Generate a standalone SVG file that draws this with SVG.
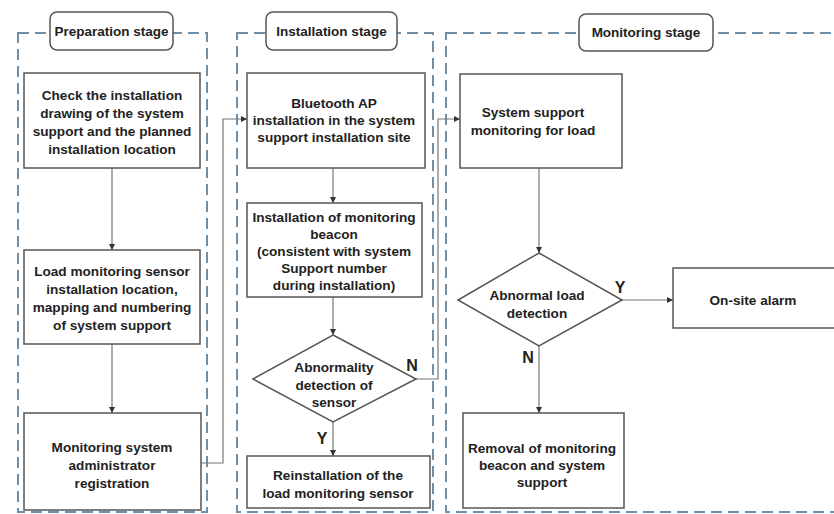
<svg xmlns="http://www.w3.org/2000/svg" width="834" height="514" viewBox="0 0 834 514">
<defs>
<marker id="ah" viewBox="0 0 10 10" refX="10" refY="5" markerWidth="6" markerHeight="6" orient="auto" markerUnits="userSpaceOnUse">
<path d="M0,0 L10,5 L0,10 z" fill="#333"/>
</marker>
<style>
.stage{fill:none;stroke:#6f8ea8;stroke-width:2;stroke-dasharray:11 6}
.lbl{fill:#fff;stroke:#555;stroke-width:1.5}
.box{fill:#fff;stroke:#555;stroke-width:1.5}
.t{font-family:"Liberation Sans",Arial,sans-serif;font-weight:bold;font-size:13.6px;fill:#222;text-anchor:middle}
.st{font-family:"Liberation Sans",Arial,sans-serif;font-weight:bold;font-size:13.5px;fill:#222;text-anchor:middle}
.yn{font-family:"Liberation Sans",Arial,sans-serif;font-weight:bold;font-size:16px;fill:#222;text-anchor:middle}
.c{fill:none;stroke:#777;stroke-width:1.2}
</style>
</defs>
<rect width="834" height="514" fill="#fff"/>
<g id="stages">
<rect class="stage" x="18" y="33" width="189" height="479"/>
<rect class="stage" x="237" y="33" width="196" height="479"/>
<rect class="stage" x="446" y="33" width="400" height="479"/>
</g>
<g id="stage-prep"><rect class="lbl" x="50" y="12" width="123" height="38" rx="7"/><text class="st" x="111.5" y="36">Preparation stage</text></g>
<g id="stage-inst"><rect class="lbl" x="266" y="12" width="131" height="38" rx="7"/><text class="st" x="331.5" y="36">Installation stage</text></g>
<g id="stage-mon"><rect class="lbl" x="579" y="14" width="134" height="37" rx="7"/><text class="st" x="646" y="37">Monitoring stage</text></g>
<g id="connectors">
<line class="c" x1="112" y1="168" x2="112" y2="250" marker-end="url(#ah)"/>
<line class="c" x1="112" y1="344" x2="112" y2="413" marker-end="url(#ah)"/>
<polyline class="c" points="201,463 223,463 223,119 247,119" marker-end="url(#ah)"/>
<line class="c" x1="333" y1="168" x2="333" y2="203" marker-end="url(#ah)"/>
<line class="c" x1="333" y1="297" x2="333" y2="335" marker-end="url(#ah)"/>
<line class="c" x1="333" y1="422" x2="333" y2="456" marker-end="url(#ah)"/>
<polyline class="c" points="416,379 438,379 438,119 460,119" marker-end="url(#ah)"/>
<line class="c" x1="539" y1="168" x2="539" y2="253" marker-end="url(#ah)"/>
<line class="c" x1="622" y1="300" x2="673" y2="300" marker-end="url(#ah)"/>
<line class="c" x1="539" y1="346" x2="539" y2="413" marker-end="url(#ah)"/>
<text class="yn" x="412" y="371">N</text>
<text class="yn" x="322" y="444">Y</text>
<text class="yn" x="620" y="293">Y</text>
<text class="yn" x="528" y="363">N</text>
</g>
<g id="p1"><rect class="box" x="24" y="73" width="176" height="95"/>
<text class="t" x="112" y="100">Check the installation</text>
<text class="t" x="112" y="118">drawing of the system</text>
<text class="t" x="112" y="136">support and the planned</text>
<text class="t" x="112" y="154">installation location</text></g>
<g id="p2"><rect class="box" x="24" y="250" width="176" height="94"/>
<text class="t" x="112" y="276">Load monitoring sensor</text>
<text class="t" x="112" y="294">installation location,</text>
<text class="t" x="112" y="312">mapping and numbering</text>
<text class="t" x="112" y="330">of system support</text></g>
<g id="p3"><rect class="box" x="24" y="413" width="177" height="97"/>
<text class="t" x="112" y="452">Monitoring system</text>
<text class="t" x="112" y="470">administrator</text>
<text class="t" x="112" y="488">registration</text></g>
<g id="i1"><rect class="box" x="247" y="73" width="178" height="95"/>
<text class="t" x="334" y="108">Bluetooth AP</text>
<text class="t" x="334" y="125">installation in the system</text>
<text class="t" x="334" y="142">support installation site</text></g>
<g id="i2"><rect class="box" x="247" y="203" width="175" height="94"/>
<text class="t" x="334" y="222">Installation of monitoring</text>
<text class="t" x="334" y="239">beacon</text>
<text class="t" x="334" y="256">(consistent with system</text>
<text class="t" x="334" y="273">Support number</text>
<text class="t" x="334" y="290">during installation)</text></g>
<g id="i3"><polygon class="box" points="333,335 416,379 333,422 253,379"/>
<text class="t" x="334" y="372">Abnormality</text>
<text class="t" x="334" y="390">detection of</text>
<text class="t" x="334" y="407">sensor</text></g>
<g id="i4"><rect class="box" x="247" y="456" width="183" height="52"/>
<text class="t" x="338" y="480">Reinstallation of the</text>
<text class="t" x="338" y="498">load monitoring sensor</text></g>
<g id="m1"><rect class="box" x="460" y="74" width="162" height="94"/>
<text class="t" x="533" y="117">System support</text>
<text class="t" x="533" y="135">monitoring for load</text></g>
<g id="m2"><polygon class="box" points="539,253 622,300 539,346 458,300"/>
<text class="t" x="537" y="300">Abnormal load</text>
<text class="t" x="537" y="318">detection</text></g>
<g id="m3"><rect class="box" x="673" y="268" width="162" height="60"/>
<text class="t" x="753" y="305">On-site alarm</text></g>
<g id="m4"><rect class="box" x="463" y="413" width="161" height="95"/>
<text class="t" x="542" y="453">Removal of monitoring</text>
<text class="t" x="542" y="470">beacon and system</text>
<text class="t" x="542" y="487">support</text></g>
</svg>
